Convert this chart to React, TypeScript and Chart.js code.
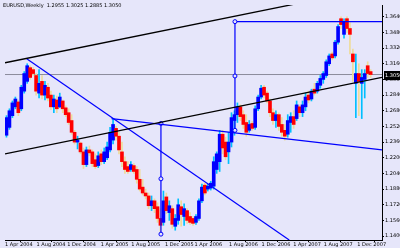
import { useEffect, useRef } from 'react';
import { Chart, registerables } from 'chart.js';

Chart.register(...registerables);

const symbolTitle = 'EURUSD,Weekly  1.2955 1.3025 1.2885 1.3050';
const lastPrice = 1.305;

const highs = [
  1.263, 1.270, 1.278, 1.282, 1.279, 1.294, 1.308, 1.316, 1.314, 1.312,
  1.306, 1.310, 1.304, 1.298, 1.296, 1.288, 1.284, 1.283, 1.286, 1.279,
  1.273, 1.270, 1.264, 1.248, 1.242, 1.236, 1.230, 1.231, 1.232, 1.228,
  1.224, 1.226, 1.228, 1.230, 1.236, 1.251, 1.260, 1.252, 1.246, 1.236,
  1.221, 1.216, 1.216, 1.214, 1.211, 1.208, 1.198, 1.188, 1.184, 1.181,
  1.178, 1.174, 1.168, 1.186, 1.184, 1.176, 1.171, 1.162, 1.178, 1.176,
  1.173, 1.168, 1.164, 1.160, 1.162, 1.178, 1.193, 1.194, 1.193, 1.196,
  1.221, 1.226, 1.248, 1.248, 1.241, 1.246, 1.266, 1.268, 1.276, 1.274,
  1.268, 1.264, 1.258, 1.257, 1.273, 1.284, 1.294, 1.294, 1.288, 1.280,
  1.270, 1.268, 1.266, 1.261, 1.254, 1.264, 1.266, 1.268, 1.278, 1.274,
  1.278, 1.286, 1.288, 1.290, 1.296, 1.298, 1.304, 1.308, 1.320, 1.326,
  1.328, 1.340, 1.356, 1.364, 1.362, 1.364, 1.358, 1.331, 1.326, 1.316,
  1.310, 1.310, 1.318, 1.310,
];
const lows = [
  1.241, 1.249, 1.261, 1.270, 1.263, 1.268, 1.286, 1.296, 1.300, 1.304,
  1.284, 1.281, 1.280, 1.279, 1.278, 1.269, 1.266, 1.266, 1.271, 1.266,
  1.262, 1.254, 1.244, 1.234, 1.229, 1.224, 1.209, 1.211, 1.222, 1.211,
  1.209, 1.210, 1.213, 1.214, 1.218, 1.226, 1.234, 1.238, 1.224, 1.211,
  1.204, 1.204, 1.206, 1.204, 1.194, 1.186, 1.182, 1.178, 1.168, 1.166,
  1.164, 1.154, 1.144, 1.151, 1.163, 1.156, 1.148, 1.146, 1.152, 1.150,
  1.151, 1.153, 1.152, 1.151, 1.152, 1.156, 1.174, 1.182, 1.186, 1.187,
  1.188, 1.204, 1.206, 1.224, 1.218, 1.214, 1.231, 1.243, 1.256, 1.258,
  1.250, 1.242, 1.246, 1.248, 1.249, 1.268, 1.280, 1.281, 1.276, 1.262,
  1.254, 1.251, 1.248, 1.242, 1.238, 1.241, 1.246, 1.250, 1.258, 1.262,
  1.262, 1.268, 1.276, 1.278, 1.284, 1.286, 1.291, 1.296, 1.302, 1.314,
  1.320, 1.322, 1.336, 1.352, 1.342, 1.348, 1.326, 1.298, 1.261, 1.263,
  1.260, 1.281, 1.302, 1.302,
];
const opens = [
  1.243, 1.251, 1.263, 1.272, 1.277, 1.270, 1.288, 1.298, 1.312, 1.310,
  1.304, 1.286, 1.298, 1.284, 1.292, 1.284, 1.272, 1.279, 1.272, 1.278,
  1.271, 1.266, 1.258, 1.246, 1.236, 1.235, 1.226, 1.213, 1.228, 1.226,
  1.218, 1.212, 1.224, 1.216, 1.220, 1.228, 1.238, 1.250, 1.242, 1.226,
  1.216, 1.211, 1.208, 1.212, 1.208, 1.198, 1.190, 1.184, 1.181, 1.171,
  1.176, 1.170, 1.158, 1.154, 1.180, 1.164, 1.168, 1.150, 1.156, 1.170,
  1.160, 1.166, 1.160, 1.158, 1.154, 1.158, 1.176, 1.192, 1.188, 1.189,
  1.191, 1.208, 1.216, 1.244, 1.236, 1.226, 1.236, 1.258, 1.264, 1.272,
  1.264, 1.256, 1.248, 1.255, 1.251, 1.270, 1.282, 1.292, 1.286, 1.278,
  1.266, 1.258, 1.264, 1.254, 1.248, 1.244, 1.256, 1.262, 1.260, 1.272,
  1.266, 1.272, 1.284, 1.280, 1.290, 1.288, 1.294, 1.300, 1.304, 1.316,
  1.326, 1.324, 1.338, 1.362, 1.346, 1.362, 1.352, 1.326, 1.296, 1.306,
  1.296, 1.300, 1.314, 1.308,
];
const closes = [
  1.261, 1.268, 1.276, 1.280, 1.266, 1.292, 1.306, 1.314, 1.302, 1.306,
  1.288, 1.296, 1.284, 1.294, 1.281, 1.272, 1.280, 1.270, 1.282, 1.270,
  1.264, 1.256, 1.246, 1.236, 1.238, 1.226, 1.213, 1.228, 1.225, 1.214,
  1.211, 1.222, 1.216, 1.226, 1.231, 1.246, 1.254, 1.242, 1.228, 1.216,
  1.208, 1.206, 1.213, 1.206, 1.198, 1.188, 1.184, 1.181, 1.171, 1.176,
  1.168, 1.158, 1.151, 1.176, 1.166, 1.171, 1.152, 1.158, 1.172, 1.162,
  1.168, 1.156, 1.154, 1.153, 1.160, 1.176, 1.190, 1.184, 1.191, 1.194,
  1.216, 1.224, 1.244, 1.230, 1.221, 1.236, 1.261, 1.264, 1.272, 1.262,
  1.254, 1.246, 1.254, 1.250, 1.270, 1.282, 1.291, 1.284, 1.278, 1.266,
  1.258, 1.264, 1.252, 1.246, 1.242, 1.258, 1.262, 1.254, 1.274, 1.266,
  1.274, 1.282, 1.279, 1.288, 1.286, 1.296, 1.301, 1.306, 1.318, 1.324,
  1.322, 1.338, 1.354, 1.356, 1.359, 1.352, 1.346, 1.318, 1.306, 1.298,
  1.302, 1.306, 1.306, 1.305,
];

const priceTicks = [
  1.364, 1.348, 1.332, 1.316, 1.300, 1.284, 1.268, 1.252,
  1.236, 1.220, 1.204, 1.188, 1.172, 1.156, 1.140,
];
const dateTickBars = [0, 10.67, 21, 32.33, 42.67, 54, 64, 75.67, 86.67, 97.33, 107.67, 119];
const dateTickLabels = [
  '1 Apr 2004', '1 Aug 2004', '1 Dec 2004', '1 Apr 2005', '1 Aug 2005', '1 Dec 2005',
  '1 Apr 2006', '1 Aug 2006', '1 Dec 2006', '1 Apr 2007', '1 Aug 2007', '1 Dec 2007',
];

const xMax = 127.333;
const priceMin = 1.136;
const priceMax = 1.376;

const upperChannel = [{ x: 0, y: 1.317 }, { x: xMax, y: 1.395 }];
const lowerChannel = [{ x: 0, y: 1.224 }, { x: xMax, y: 1.302 }];
const fallingLine = [{ x: 7.33, y: 1.321 }, { x: 96, y: 1.136 }];
const shallowLine = [{ x: 36, y: 1.26 }, { x: xMax, y: 1.228 }];
const expansionA = [{ x: 52.67, y: 1.255 }, { x: 52.67, y: 1.1985 }, { x: 52.67, y: 1.142 }];
const expansionB = [
  { x: xMax, y: 1.359 }, { x: 77.67, y: 1.359 }, { x: 77.67, y: 1.3035 }, { x: 77.67, y: 1.248 },
];

const BG = '#e6e6fa';
const UP = '#0000ff';
const DOWN = '#ff0000';
const UP_WICK = '#00bfff';
const DOWN_WICK = '#eedc9a';
const FONT = 'DejaVu Sans';

export default function App() {
  const ref = useRef<HTMLCanvasElement>(null);

  useEffect(() => {
    document.body.style.margin = '0';
    const canvas = ref.current;
    if (!canvas) return;

    const xs = highs.map((_, i) => i + 0.5);
    const isUp = closes.map((c, i) => c >= opens[i]);

    const overlay = {
      id: 'overlay',
      beforeDraw(chart: any) {
        const { ctx, width, height } = chart;
        ctx.save();
        ctx.fillStyle = BG;
        ctx.fillRect(0, 0, width, height);
        ctx.restore();
      },
      afterDraw(chart: any) {
        const { ctx, chartArea } = chart;
        ctx.save();
        ctx.font = `5px "${FONT}"`;
        ctx.fillStyle = '#000';
        ctx.textBaseline = 'top';
        ctx.fillText(symbolTitle, 3, 3);
        const y = chart.scales.y.getPixelForValue(lastPrice);
        ctx.fillStyle = '#000';
        ctx.fillRect(chartArea.right + 2, Math.round(y) - 4, 16, 9);
        ctx.fillStyle = '#fff';
        ctx.textBaseline = 'middle';
        ctx.fillText(lastPrice.toFixed(4), chartArea.right + 3, Math.round(y) + 0.5);
        ctx.restore();
      },
    };

    const lineDs = (data: any[], color: string, width: number, radius: number[] | number = 0) => ({
      type: 'line' as const,
      data,
      borderColor: color,
      borderWidth: width,
      pointRadius: radius,
      pointBackgroundColor: BG,
      pointBorderColor: color,
      pointBorderWidth: 1,
      fill: false,
      tension: 0,
      order: 0,
    });

    const chart = new Chart(canvas, {
      type: 'bar',
      data: {
        datasets: [
          lineDs(upperChannel, '#000000', 1.3),
          lineDs(lowerChannel, '#000000', 1.3),
          lineDs(fallingLine, '#0000ff', 1.2),
          lineDs(shallowLine, '#0000ff', 1.2),
          lineDs(expansionA, '#0000ff', 1.2, [2, 2, 2]),
          lineDs(expansionB, '#0000ff', 1.2, [0, 2, 2, 2]),
          {
            type: 'line' as const,
            data: [{ x: 0, y: lastPrice }, { x: xMax, y: lastPrice }],
            borderColor: '#8c8c9c',
            borderWidth: 1,
            pointRadius: 0,
            order: 3,
          },
          {
            type: 'bar' as const,
            data: xs.map((x, i) => ({ x, y: [opens[i], closes[i]] })),
            backgroundColor: isUp.map((u) => (u ? UP : DOWN)),
            borderWidth: 0,
            barThickness: 3,
            grouped: false,
            order: 1,
          },
          {
            type: 'bar' as const,
            data: xs.map((x, i) => ({ x, y: [lows[i], highs[i]] })),
            backgroundColor: isUp.map((u) => (u ? UP_WICK : DOWN_WICK)),
            borderWidth: 0,
            barThickness: 1,
            grouped: false,
            order: 2,
          },
        ] as any,
      },
      plugins: [overlay],
      options: {
        animation: false,
        responsive: false,
        devicePixelRatio: 1,
        layout: { padding: 0 },
        plugins: { legend: { display: false }, tooltip: { enabled: false }, title: { display: false } },
        scales: {
          x: {
            type: 'linear',
            min: 0,
            max: xMax,
            offset: false,
            afterBuildTicks: (scale: any) => {
              scale.ticks = dateTickBars.map((v) => ({ value: v }));
            },
            afterFit: (scale: any) => {
              scale.height = 8;
            },
            ticks: {
              callback: (_v: any, i: number) => dateTickLabels[i],
              align: 'start',
              autoSkip: false,
              maxRotation: 0,
              minRotation: 0,
              padding: 0,
              color: '#000',
              font: { family: FONT, size: 5 },
            },
            grid: { drawOnChartArea: false, tickLength: 2, color: '#000' },
            border: { color: '#000', width: 1 },
          },
          y: {
            type: 'linear',
            position: 'right',
            min: priceMin,
            max: priceMax,
            afterBuildTicks: (scale: any) => {
              scale.ticks = priceTicks.map((v) => ({ value: v }));
            },
            afterFit: (scale: any) => {
              scale.width = 18;
            },
            ticks: {
              callback: (v: any) => Number(v).toFixed(4),
              autoSkip: false,
              padding: 1,
              color: '#000',
              font: { family: FONT, size: 5 },
            },
            grid: { drawOnChartArea: false, tickLength: 2, color: '#000' },
            border: { color: '#000', width: 1 },
          },
        },
      } as any,
    });

    return () => chart.destroy();
  }, []);

  return (
    <div style={{ width: 400, height: 248 }}>
      <canvas ref={ref} width={400} height={248} style={{ display: 'block', width: 400, height: 248 }} />
    </div>
  );
}
